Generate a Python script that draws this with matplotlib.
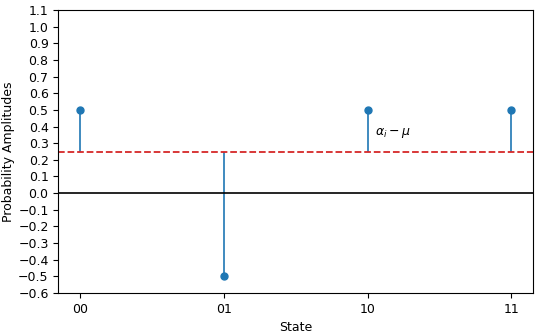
import matplotlib
matplotlib.use("Agg")
import matplotlib.pyplot as plt
import numpy as np

states = ["00", "01", "10", "11"]
amplitudes = [0.5, -0.5, 0.5, 0.5]
mean_amp = 0.25

fig, ax = plt.subplots(figsize=(5.4, 3.33), dpi=100)
x = np.arange(len(states))
markers, stems, base = ax.stem(x, amplitudes, bottom=mean_amp)
markers.set_markersize(5)
stems.set_linewidth(1.2)
base.set_visible(False)
ax.axhline(mean_amp, color="C3", linestyle="--", linewidth=1.3)
ax.axhline(0, color="black", linewidth=1.2)
ax.text(2.05, 0.35, r"$\alpha_i - \mu$", fontsize=9)
ax.set_xticks(x)
ax.set_xticklabels(states, fontsize=9)
ax.set_yticks(np.round(np.arange(-0.6, 1.11, 0.1), 1))
ax.set_ylim(-0.6, 1.1)
ax.tick_params(axis="y", labelsize=9)
ax.set_xlabel("State", fontsize=9)
ax.set_ylabel("Probability Amplitudes", fontsize=9, labelpad=2)
fig.subplots_adjust(left=0.108, right=0.987, top=0.97, bottom=0.12)
fig.savefig("out.png", dpi=100)
